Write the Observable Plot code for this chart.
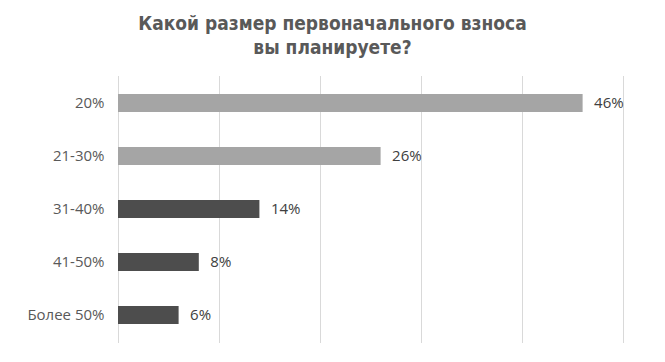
<!DOCTYPE html>
<html>
<head>
<meta charset="utf-8">
<script src="https://cdn.jsdelivr.net/npm/d3@7"></script>
<script src="https://cdn.jsdelivr.net/npm/@observablehq/plot@0.6"></script>
<style>
  html, body { margin: 0; padding: 0; background: #fff; }
  #title {
    width: 665px; height: 66px; box-sizing: border-box; padding-top: 11px;
    text-align: center; font-family: "Liberation Sans Narrow", "DejaVu Sans Condensed", "Roboto Condensed", sans-serif;
    font-weight: bold; font-size: 19px; line-height: 24px; color: #595959;
  }
  #chart svg { display: block; }
</style>
</head>
<body>
<div id="title">Какой размер первоначального взноса<br>вы планируете?</div>
<div id="chart"></div>
<script>
const categories = ["20%", "21-30%", "31-40%", "41-50%", "Более 50%"];
const values = [46, 26, 14, 8, 6];
const colors = ["#a5a5a5", "#a5a5a5", "#4d4d4d", "#4d4d4d", "#4d4d4d"];
const xTicks = [0, 10, 20, 30, 40, 50];

const data = categories.map((c, i) => ({category: c, value: values[i], color: colors[i]}));

const chart = Plot.plot({
  width: 665,
  height: 296,
  marginTop: 10,
  marginBottom: 19,
  marginLeft: 118,
  marginRight: 42,
  style: {fontFamily: "'Open Sans', sans-serif", fontSize: "15px", color: "#595959", background: "#fff"},
  x: {domain: [0, 50], ticks: xTicks, axis: null},
  y: {domain: categories, paddingInner: 0.66, paddingOuter: 0.33, label: null},
  marks: [
    Plot.ruleX(xTicks, {stroke: "#d9d9d9", strokeWidth: 1}),
    Plot.barX(data, {x: "value", y: "category", fill: "color"}),
    Plot.text(data, {x: "value", y: "category", text: d => d.value + "%", textAnchor: "start", dx: 11, fill: "#404040", fontSize: 15}),
    Plot.axisY({tickSize: 0, tickPadding: 14, fontSize: 15, fill: "#595959", label: null})
  ]
});
document.getElementById("chart").appendChild(chart);
</script>
</body>
</html>
